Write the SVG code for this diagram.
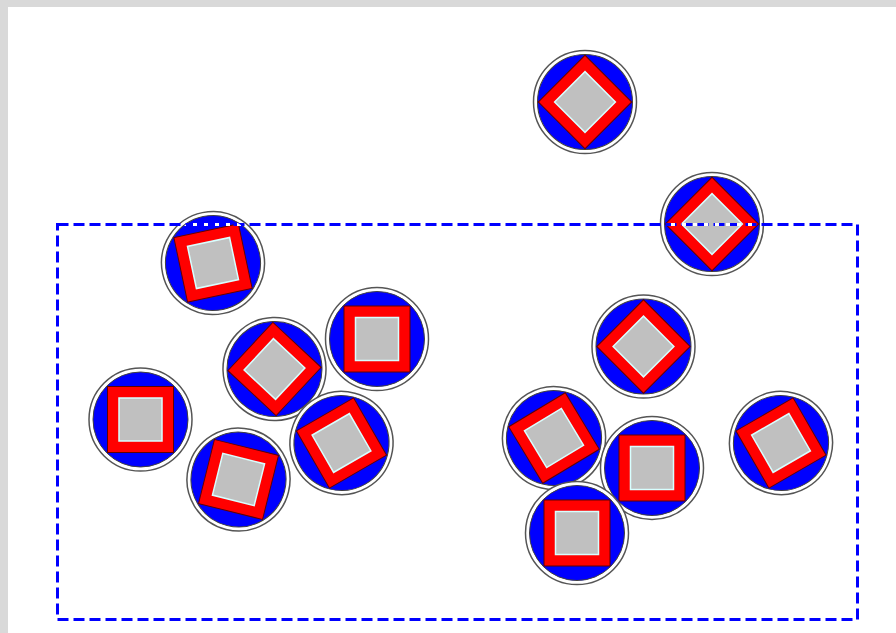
<svg xmlns="http://www.w3.org/2000/svg" xmlns:xlink="http://www.w3.org/1999/xlink" width="896" height="633" viewBox="0 0 896 633">
<style>
.ring{fill:#ffffff;stroke:#555555;stroke-width:1.5}
.disc{fill:#0000ff;stroke:#404040;stroke-width:1}
.outer{fill:#ff0000;stroke:#600000;stroke-width:1}
.inner{fill:#c0c0c0;stroke:#d8ffff;stroke-width:1.5}
.sel{fill:none;stroke:#0000ff;stroke-width:3;stroke-dasharray:11 5}
.selx{fill:none;stroke:#ffffff;stroke-width:3;stroke-dasharray:4 7}
</style>
<defs>
<g id="token">
<circle class="ring" r="51.5"/>
<circle class="disc" r="47.5"/>
<rect class="outer" x="-33" y="-33" width="66" height="66"/>
<rect class="inner" x="-21.5" y="-21.5" width="43" height="43"/>
</g>
<clipPath id="c2"><circle cx="712" cy="224" r="47"/></clipPath>
<clipPath id="c3"><circle cx="213" cy="263" r="47"/></clipPath>
</defs>
<rect x="0" y="0" width="896" height="633" fill="#d9d9d9"/>
<rect x="8" y="7" width="888" height="626" fill="#ffffff"/>
<g id="nodes">
<g id="n1" transform="translate(585,102)"><use xlink:href="#token" transform="rotate(45)"/></g>
<g id="n2" transform="translate(712,224)"><use xlink:href="#token" transform="rotate(45)"/></g>
<g id="n3" transform="translate(213,263)"><use xlink:href="#token" transform="rotate(-12)"/></g>
<g id="n4" transform="translate(274.5,369)"><use xlink:href="#token" transform="rotate(43)"/></g>
<g id="n5" transform="translate(377,339)"><use xlink:href="#token" transform="rotate(0)"/></g>
<g id="n6" transform="translate(140.5,419.5)"><use xlink:href="#token" transform="rotate(0)"/></g>
<g id="n7" transform="translate(238.5,479.5)"><use xlink:href="#token" transform="rotate(14)"/></g>
<g id="n8" transform="translate(341.5,443)"><use xlink:href="#token" transform="rotate(-30)"/></g>
<g id="n9" transform="translate(643.5,346.5)"><use xlink:href="#token" transform="rotate(45)"/></g>
<g id="n10" transform="translate(554,438)"><use xlink:href="#token" transform="rotate(-31)"/></g>
<g id="n11" transform="translate(652,468)"><use xlink:href="#token" transform="rotate(0)"/></g>
<g id="n12" transform="translate(577,533)"><use xlink:href="#token" transform="rotate(0)"/></g>
<g id="n13" transform="translate(781,443)"><use xlink:href="#token" transform="rotate(-30)"/></g>
</g>
<g id="selection">
<rect class="sel" x="57.5" y="224.5" width="800" height="395"/>
<line class="selx" x1="660" y1="224.5" x2="765" y2="224.5" clip-path="url(#c2)"/>
<line class="selx" x1="160" y1="224.5" x2="265" y2="224.5" clip-path="url(#c3)"/>
</g>
</svg>
